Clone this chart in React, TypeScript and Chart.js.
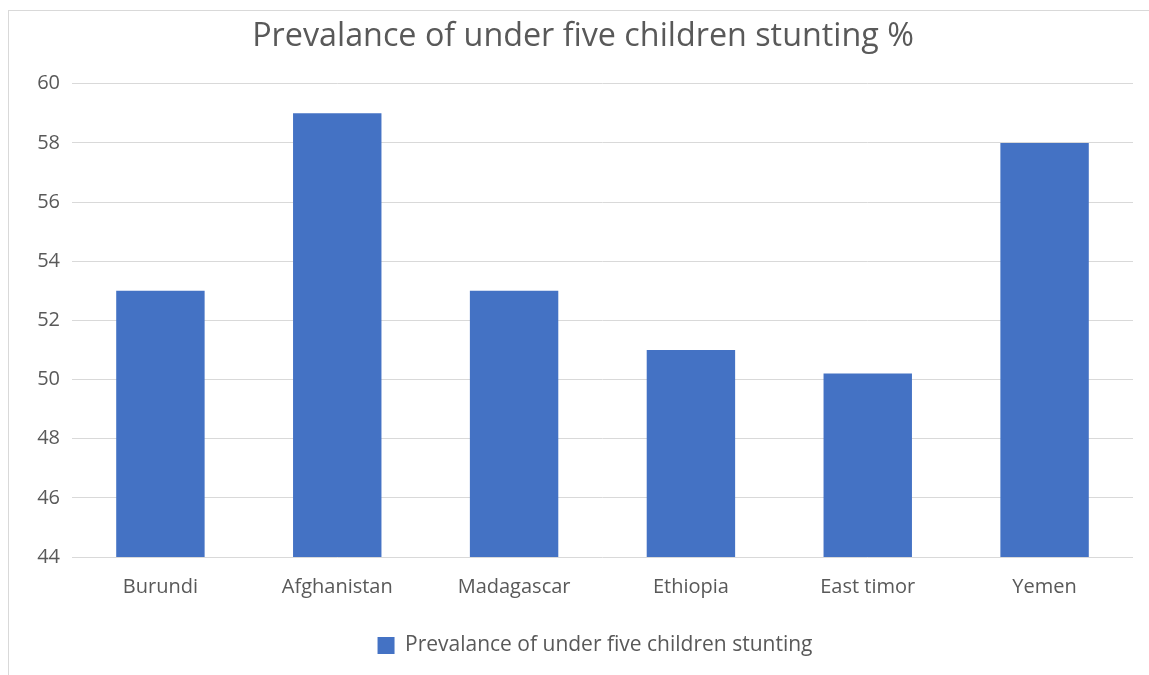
import React, { useEffect, useRef } from "react";
import { Chart, registerables } from "chart.js";

Chart.register(...registerables);

const titleText = "Prevalance of under five children stunting %";
const seriesLabel = "Prevalance of under five children stunting";
const categories = ["Burundi", "Afghanistan", "Madagascar", "Ethiopia", "East timor", "Yemen"];
const values = [53, 59, 53, 51, 50.2, 58];
const yMin = 44;
const yMax = 60;
const yStep = 2;

const FONT = "'Open Sans', 'Noto Sans', sans-serif";

const legendShift = {
  id: "legendShift",
  afterLayout(chart: any) {
    if (chart.legend) {
      chart.legend.left += 12;
      chart.legend.right += 12;
    }
  },
};

export default function App() {
  const ref = useRef<HTMLCanvasElement>(null);
  useEffect(() => {
    if (!ref.current) return;
    const chart = new Chart(ref.current, {
      type: "bar",
      data: {
        labels: categories,
        datasets: [
          {
            label: seriesLabel,
            data: values,
            backgroundColor: "#4472C4",
            borderWidth: 0,
            barPercentage: 0.5,
            categoryPercentage: 1,
          },
        ],
      },
      plugins: [legendShift],
      options: {
        animation: false,
        responsive: false,
        maintainAspectRatio: false,
        layout: { padding: { left: 24, right: 16, top: 4, bottom: 9 } },
        plugins: {
          title: {
            display: true,
            text: titleText,
            color: "#595959",
            font: { family: FONT, size: 32.3, weight: "normal" },
            padding: { top: 2, bottom: 28 },
          },
          legend: {
            display: true,
            position: "bottom",
            labels: {
              color: "#595959",
              font: { family: FONT, size: 21 },
              boxWidth: 17,
              boxHeight: 17,
              padding: 18,
            },
          },
          tooltip: { enabled: false },
        },
        scales: {
          x: {
            grid: { display: false, drawTicks: false },
            border: { display: false },
            ticks: {
              color: "#595959",
              font: { family: FONT, size: 20 },
              padding: 18,
            },
          },
          y: {
            min: yMin,
            max: yMax,
            grid: { color: "#d9d9d9", lineWidth: 1, drawTicks: false },
            border: { display: false },
            ticks: {
              stepSize: yStep,
              color: "#595959",
              font: { family: FONT, size: 20 },
              padding: 12,
            },
            afterFit: (scale: any) => {
              scale.width = 39;
            },
          },
        },
      },
    });
    return () => chart.destroy();
  }, []);

  return (
    <div
      style={{
        position: "fixed",
        left: 8,
        top: 10,
        width: 1141,
        height: 665,
        borderLeft: "1px solid #d9d9d9",
        borderTop: "1px solid #d9d9d9",
        boxSizing: "border-box",
        background: "#fff",
      }}
    >
      <canvas ref={ref} width={1140} height={664} style={{ display: "block" }} />
    </div>
  );
}
